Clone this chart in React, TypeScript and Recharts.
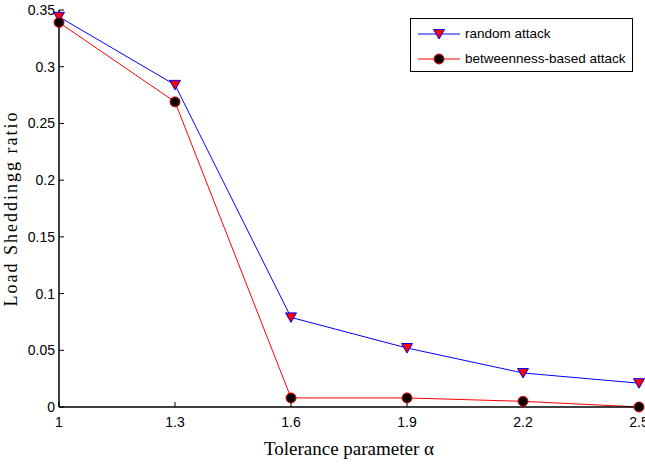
import { LineChart, Line, XAxis, YAxis, Legend } from 'recharts'

const alphas = [1, 1.3, 1.6, 1.9, 2.2, 2.5]
const randomAttack = [0.344, 0.284, 0.079, 0.052, 0.03, 0.021]
const betweennessAttack = [0.339, 0.269, 0.008, 0.008, 0.005, 0.0]
const xTicks = [1, 1.3, 1.6, 1.9, 2.2, 2.5]
const yTicks = [0, 0.05, 0.1, 0.15, 0.2, 0.25, 0.3, 0.35]

const data = alphas.map((a, i) => ({
  alpha: a,
  random: randomAttack[i],
  betweenness: betweennessAttack[i],
}))

const TICK_FONT = '"Liberation Sans", Arial, sans-serif'
const TITLE_FONT = '"Liberation Serif", "Times New Roman", serif'
const TICK_LEN = 5

function Triangle({ cx, cy }: { cx: number; cy: number }) {
  return (
    <polygon
      points={`${cx - 5.5},${cy - 4.5} ${cx + 5.5},${cy - 4.5} ${cx},${cy + 5}`}
      fill="#ff0000"
      stroke="#0000ff"
      strokeWidth={1}
    />
  )
}

function Circle({ cx, cy }: { cx: number; cy: number }) {
  return <circle cx={cx} cy={cy} r={5} fill="#000000" stroke="#ff0000" strokeWidth={1} />
}

// ticks point inward, matlab style
function BottomTick(props: any) {
  const { x, y, payload } = props
  return (
    <g>
      <line x1={x} y1={y} x2={x} y2={y - TICK_LEN} stroke="#000" />
      <text x={x} y={y + 20} textAnchor="middle" fontSize={14} fontFamily={TICK_FONT} fill="#000">
        {payload.value}
      </text>
    </g>
  )
}

function TopTick(props: any) {
  const { x, y } = props
  return <line x1={x} y1={y} x2={x} y2={y + TICK_LEN} stroke="#000" />
}

function LeftTick(props: any) {
  const { x, y, payload } = props
  return (
    <g>
      <line x1={x} y1={y} x2={x + TICK_LEN} y2={y} stroke="#000" />
      <text x={x - 4} y={y + 5} textAnchor="end" fontSize={14} fontFamily={TICK_FONT} fill="#000">
        {payload.value}
      </text>
    </g>
  )
}

function RightTick(props: any) {
  const { x, y } = props
  return <line x1={x} y1={y} x2={x - TICK_LEN} y2={y} stroke="#000" />
}

function LegendBox() {
  const rows = [
    { label: 'random attack', color: '#0000ff', marker: 'tri' },
    { label: 'betweenness-based attack', color: '#ff0000', marker: 'circ' },
  ]
  return (
    <div
      style={{
        width: 221,
        height: 52,
        border: '1.5px solid #000',
        background: '#fff',
        boxSizing: 'content-box',
      }}
    >
      {rows.map((r) => (
        <div key={r.label} style={{ display: 'flex', alignItems: 'center', height: 25, marginTop: r.marker === 'tri' ? 2 : 0 }}>
          <svg width={54} height={20} style={{ display: 'block' }}>
            <line x1={7} y1={10} x2={49} y2={10} stroke={r.color} strokeWidth={1} />
            {r.marker === 'tri' ? <Triangle cx={28} cy={10} /> : <Circle cx={28} cy={10} />}
          </svg>
          <span style={{ fontFamily: TICK_FONT, fontSize: 13.5, color: '#000' }}>{r.label}</span>
        </div>
      ))}
    </div>
  )
}

export default function App() {
  return (
    <div style={{ position: 'absolute', left: 0, top: 0, background: '#fff' }}>
      <LineChart width={645} height={464} data={data} margin={{ top: 10, right: 6, bottom: 0, left: 0 }}>
        <XAxis
          dataKey="alpha"
          type="number"
          domain={[1, 2.5]}
          ticks={xTicks}
          interval={0}
          tickSize={0}
          tickMargin={0}
          tickLine={false}
          axisLine={{ stroke: '#000', strokeWidth: 1.5 }}
          tick={BottomTick}
          height={57}
          label={{
            content: (p: any) => {
              const vb = p.viewBox
              return (
                <text
                  x={vb.x + vb.width / 2}
                  y={vb.y + 48}
                  textAnchor="middle"
                  fontSize={19}
                  fontFamily={TITLE_FONT}
                  fill="#000"
                >
                  Tolerance parameter α
                </text>
              )
            },
          }}
        />
        <XAxis
          xAxisId="top"
          orientation="top"
          dataKey="alpha"
          type="number"
          domain={[1, 2.5]}
          ticks={xTicks}
          interval={0}
          tickSize={0}
          tickMargin={0}
          tickLine={false}
          axisLine={{ stroke: '#000', strokeWidth: 1.5 }}
          tick={TopTick}
          height={0}
        />
        <YAxis
          type="number"
          domain={[0, 0.35]}
          ticks={yTicks}
          interval={0}
          width={59}
          tickSize={0}
          tickMargin={0}
          tickLine={false}
          axisLine={{ stroke: '#000', strokeWidth: 1.5 }}
          tick={LeftTick}
          label={{
            content: (p: any) => {
              const vb = p.viewBox
              const cx = 17
              const cy = vb.y + vb.height / 2
              return (
                <text
                  x={cx}
                  y={cy}
                  transform={`rotate(-90, ${cx}, ${cy})`}
                  textAnchor="middle"
                  fontSize={18}
                  letterSpacing={2}
                  fontFamily={TITLE_FONT}
                  fill="#000"
                >
                  Load Sheddingg ratio
                </text>
              )
            },
          }}
        />
        <YAxis
          yAxisId="right"
          orientation="right"
          type="number"
          domain={[0, 0.35]}
          ticks={yTicks}
          interval={0}
          width={0}
          tickSize={0}
          tickMargin={0}
          tickLine={false}
          axisLine={{ stroke: '#000', strokeWidth: 1.5 }}
          tick={RightTick}
        />
        <Legend
          layout="horizontal"
          verticalAlign="middle"
          align="center"
          content={() => <LegendBox />}
          wrapperStyle={{ left: 410, top: 18, width: 'auto', height: 'auto' }}
        />
        <Line
          dataKey="random"
          stroke="#0000ff"
          strokeWidth={1}
          dot={(p: any) => <Triangle key={`t${p.index}`} cx={p.cx} cy={p.cy} />}
          activeDot={false}
          isAnimationActive={false}
        />
        <Line
          dataKey="betweenness"
          stroke="#ff0000"
          strokeWidth={1}
          dot={(p: any) => <Circle key={`c${p.index}`} cx={p.cx} cy={p.cy} />}
          activeDot={false}
          isAnimationActive={false}
        />
      </LineChart>
    </div>
  )
}
